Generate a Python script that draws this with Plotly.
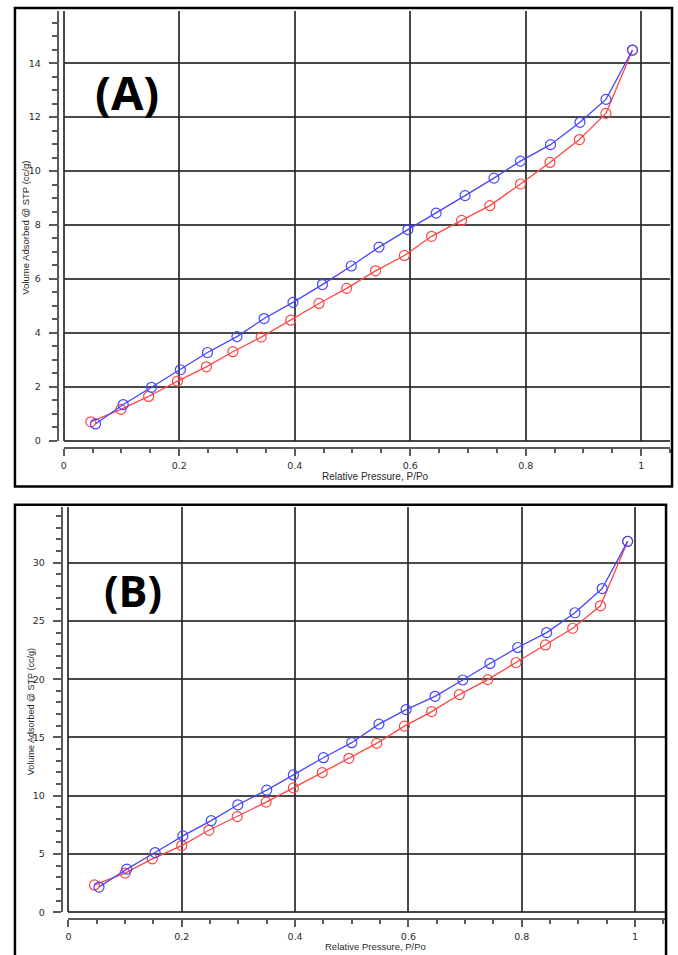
import plotly.graph_objects as go

# ---------------- data ----------------
# Panel A
a_red_x = [0.047, 0.099, 0.147, 0.197, 0.247, 0.293, 0.342, 0.393, 0.442, 0.490,
           0.540, 0.590, 0.637, 0.689, 0.738, 0.791, 0.842, 0.893, 0.939, 0.985]
a_red_y = [0.70, 1.16, 1.64, 2.21, 2.74, 3.30, 3.84, 4.47, 5.09, 5.65,
           6.30, 6.87, 7.58, 8.17, 8.72, 9.52, 10.32, 11.17, 12.14, 14.49]
a_blue_x = [0.055, 0.103, 0.152, 0.202, 0.249, 0.300, 0.347, 0.397, 0.448, 0.498,
            0.546, 0.596, 0.645, 0.695, 0.745, 0.791, 0.843, 0.894, 0.939, 0.985]
a_blue_y = [0.62, 1.34, 1.98, 2.63, 3.27, 3.86, 4.53, 5.13, 5.79, 6.48,
            7.18, 7.83, 8.44, 9.09, 9.74, 10.37, 10.98, 11.81, 12.66, 14.49]

# Panel B
b_red_x = [0.046, 0.100, 0.148, 0.200, 0.248, 0.298, 0.349, 0.397, 0.448, 0.495,
           0.544, 0.593, 0.641, 0.690, 0.740, 0.790, 0.842, 0.890, 0.939, 0.987]
b_red_y = [2.34, 3.36, 4.58, 5.72, 7.03, 8.20, 9.45, 10.67, 11.98, 13.21,
           14.49, 15.97, 17.22, 18.68, 19.96, 21.43, 22.94, 24.37, 26.30, 31.83]
b_blue_x = [0.054, 0.103, 0.153, 0.202, 0.252, 0.299, 0.350, 0.397, 0.450, 0.500,
            0.548, 0.596, 0.647, 0.696, 0.744, 0.793, 0.844, 0.894, 0.942, 0.987]
b_blue_y = [2.16, 3.70, 5.12, 6.55, 7.86, 9.22, 10.48, 11.78, 13.26, 14.55,
            16.14, 17.39, 18.53, 19.93, 21.35, 22.72, 24.00, 25.70, 27.78, 31.83]

x_title = "Relative Pressure, P/Po"
y_title = "Volume Adsorbed @ STP (cc/g)"
panel_labels = ["(A)", "(B)"]

# ---------------- figure ----------------
W, H = 678, 955
RED = "rgb(255,70,70)"
BLUE = "rgb(70,70,255)"
GRID = "rgba(40,40,40,0.85)"
AXIS = "rgb(90,90,90)"
TICKFONT = dict(family="DejaVu Sans", size=9.5, color="#2a2a2a")

def px(x):
    return x / W

def py(y):
    return 1 - y / H

fig = go.Figure()

def add_series(xs, ys, color, xa, ya):
    fig.add_trace(go.Scatter(
        x=xs, y=ys, mode="lines+markers", xaxis=xa, yaxis=ya,
        line=dict(color=color, width=1.3),
        marker=dict(symbol="circle-open", size=10, color=color,
                    line=dict(color=color, width=1.2)),
        showlegend=False, hoverinfo="x+y"))

add_series(a_red_x, a_red_y, RED, "x", "y")
add_series(a_blue_x, a_blue_y, BLUE, "x", "y")
add_series(b_red_x, b_red_y, RED, "x2", "y2")
add_series(b_blue_x, b_blue_y, BLUE, "x2", "y2")

def xaxis_cfg(left, right, rng, pos_px):
    return dict(domain=[px(left), px(right)], range=rng, anchor="free",
                position=py(pos_px), dtick=0.2, tick0=0,
                showgrid=True, gridcolor=GRID, gridwidth=2,
                zeroline=True, zerolinecolor=GRID, zerolinewidth=2,
                showline=True, linecolor=AXIS, linewidth=2,
                ticks="outside", ticklen=7, tickwidth=2, tickcolor=AXIS,
                ticklabelstandoff=2,
                minor=dict(dtick=0.05, ticks="outside", ticklen=4,
                           tickwidth=2, tickcolor=AXIS, showgrid=False),
                tickfont=TICKFONT, fixedrange=True)

def yaxis_cfg(bottom, top, rng, pos_px, dt, mdt):
    return dict(domain=[py(bottom), py(top)], range=rng, anchor="free",
                position=px(pos_px), dtick=dt, tick0=0,
                showgrid=True, gridcolor=GRID, gridwidth=2,
                zeroline=True, zerolinecolor=GRID, zerolinewidth=2,
                showline=True, linecolor=AXIS, linewidth=2,
                ticks="outside", ticklen=8, tickwidth=2, tickcolor=AXIS,
                ticklabelstandoff=6,
                minor=dict(dtick=mdt, ticks="outside", ticklen=5,
                           tickwidth=2, tickcolor=AXIS, showgrid=False),
                tickfont=TICKFONT, fixedrange=True)

fig.update_layout(
    width=W, height=H,
    margin=dict(l=0, r=0, t=0, b=0),
    paper_bgcolor="white", plot_bgcolor="white",
    xaxis=xaxis_cfg(61, 670, [0, 1.05], 450),
    yaxis=yaxis_cfg(443, 11, [0, 15.94], 55, 2, 0.5),
    xaxis2=xaxis_cfg(65.7, 665, [0, 1.053], 923.5),
    yaxis2=yaxis_cfg(917, 510, [0, 34.75], 59, 5, 1),
)

# frames around the two panels
fig.add_shape(type="rect", xref="paper", yref="paper",
              x0=px(12), x1=px(672), y0=py(489), y1=py(8),
              line=dict(color="black", width=2.5), layer="above")
fig.add_shape(type="rect", xref="paper", yref="paper",
              x0=px(12), x1=px(666), y0=py(975), y1=py(507.5),
              line=dict(color="black", width=2.5), layer="above")

TITLEFONT = dict(family="Liberation Sans", color="#2a2a2a")

annotations = [
    dict(text=x_title, x=px(374), y=py(479), font=dict(size=10, **TITLEFONT)),
    dict(text=x_title, x=px(374), y=py(951), font=dict(size=9.5, **TITLEFONT)),
    dict(text=y_title, x=px(23), y=py(229), textangle=-90, font=dict(size=9.5, **TITLEFONT)),
    dict(text=y_title, x=px(28), y=py(715), textangle=-90, font=dict(size=9, **TITLEFONT)),
    dict(text="<b>" + panel_labels[0] + "</b>", x=px(125), y=py(92),
         font=dict(family="Open Sans", size=47, color="black")),
    dict(text="<b>" + panel_labels[1] + "</b>", x=px(131), y=py(594),
         font=dict(family="Open Sans", size=43, color="black")),
]
for a in annotations:
    a.update(xref="paper", yref="paper", showarrow=False,
             xanchor="center", yanchor="middle")
fig.update_layout(annotations=annotations)

fig.write_html("out.html", config={"displayModeBar": False},
               post_script="document.body.style.margin='0px';document.body.style.overflow='hidden';")
